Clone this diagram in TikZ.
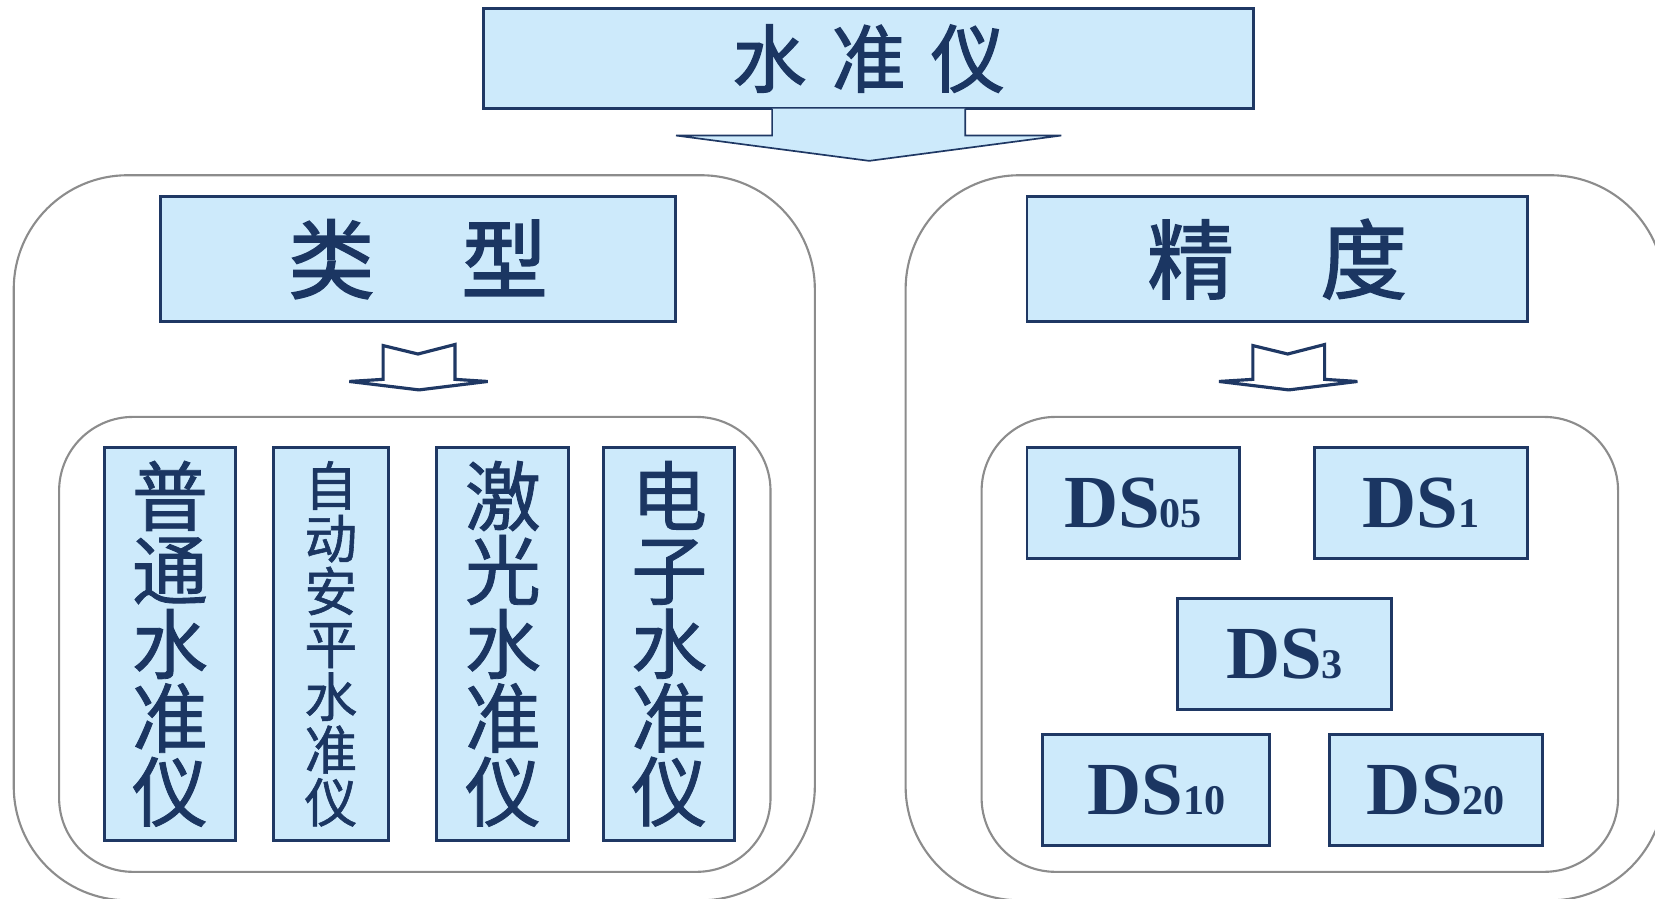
\documentclass[tikz,border=0pt]{standalone}
\usepackage{fontspec}
\newfontfamily\cjk{Noto Sans CJK SC}[FakeBold = 1.1]
\newfontfamily\cjkhead{Noto Sans CJK SC}[FakeBold = 1.8]
\newfontfamily\dsfont{Liberation Serif}
\usetikzlibrary{calc}

\definecolor{boxfill}{HTML}{CDEAFB}
\definecolor{boxline}{HTML}{1F3864}
\definecolor{textblue}{HTML}{1B3662}
\definecolor{framegray}{HTML}{8C8C8C}

\tikzset{
  box/.style = {draw = boxline, line width = 2.8pt, fill = boxfill, text = textblue, inner sep = 0pt},
  frame/.style = {draw = framegray, line width = 2pt, rounded corners = 108pt},
  inframe/.style = {draw = framegray, line width = 2pt, rounded corners = 70pt},
  sarrow/.style = {draw = boxline, line width = 3pt, line join = miter},
  vbox/.style = {box, minimum height = 372, align = center, font = \cjk\fontsize{72}{70}\selectfont},
  dsbox/.style = {box, minimum height = 105, font = \dsfont\bfseries\fontsize{71}{71}\selectfont}
}

\newcommand{\dsnum}[1]{{\fontsize{40}{40}\selectfont #1}}

\begin{document}
\begin{tikzpicture} [x = 1pt, y = -1pt]

\useasboundingbox (0,0) rectangle (1568,851.7);

% frames
\draw [frame] (13,166) rectangle (772,853);
\draw [frame] (858,166) rectangle (1577,853);
\draw [inframe] (56,395) rectangle (730,826);
\draw [inframe] (930,395) rectangle (1533,826);

\node (top) [box, minimum width = 730, minimum height = 95, font = \cjkhead\fontsize{70}{70}\selectfont] at (823,55.5) {水\kern24pt准\kern24pt仪};

\node (type) [box, minimum width = 488, minimum height = 119, font = \cjkhead\fontsize{82}{82}\selectfont] at (396,245.5) {类\kern82pt型};
\node (prec) [box, minimum width = 474, minimum height = 119, font = \cjkhead\fontsize{82}{82}\selectfont] at (1210,245.5) {精\kern82pt度};

% big arrow
\path [fill = boxfill, draw = boxline, line width = 1.6pt, line join = miter]
  ([xshift = -91.5pt, yshift = 1.6pt]top.south) -- ++(0,25.6) -- ++(-91,0) -- ++(183,24)
  -- ++(182,-24) -- ++(-91,0) -- ++(0,-25.6);

% small arrows
\draw [sarrow] ([yshift = -29pt]type.south) -- ++(-33,-8) -- ++(0,32) -- ++(-32,2) -- ++(66,8)
  -- ++(65,-8) -- ++(-31,-2) -- ++(0,-33) -- cycle;
\draw [sarrow] ([xshift = 10pt, yshift = -29pt]prec.south) -- ++(-33,-8) -- ++(0,32) -- ++(-32,2) -- ++(66,8)
  -- ++(65,-8) -- ++(-31,-2) -- ++(0,-33) -- cycle;

% types
\node (pt) [vbox, minimum width = 124, text width = 124] at (161,610) {普\\通\\水\\准\\仪};
\node (zd) [vbox, minimum width = 109, text width = 109, font = \cjk\fontsize{50}{50}\selectfont] at (313.5,610) {自\\动\\安\\平\\水\\准\\仪};
\node (jg) [vbox, minimum width = 125, text width = 125] at (476.5,610) {激\\光\\水\\准\\仪};
\node (dz) [vbox, minimum width = 124, text width = 124] at (634,610) {电\\子\\水\\准\\仪};

% precision
\node (ds05) [dsbox, minimum width = 201] at (1073.5,476.5) {DS\dsnum{05}};
\node (ds1) [dsbox, minimum width = 202] at (1346,476.5) {DS\dsnum{1}};
\node (ds3) [dsbox, minimum width = 202] at (1217,619.5) {DS\dsnum{3}};
\node (ds10) [dsbox, minimum width = 215] at (1095.5,748.5) {DS\dsnum{10}};
\node (ds20) [dsbox, minimum width = 201] at (1360.5,748.5) {DS\dsnum{20}};

\end{tikzpicture}
\end{document}
